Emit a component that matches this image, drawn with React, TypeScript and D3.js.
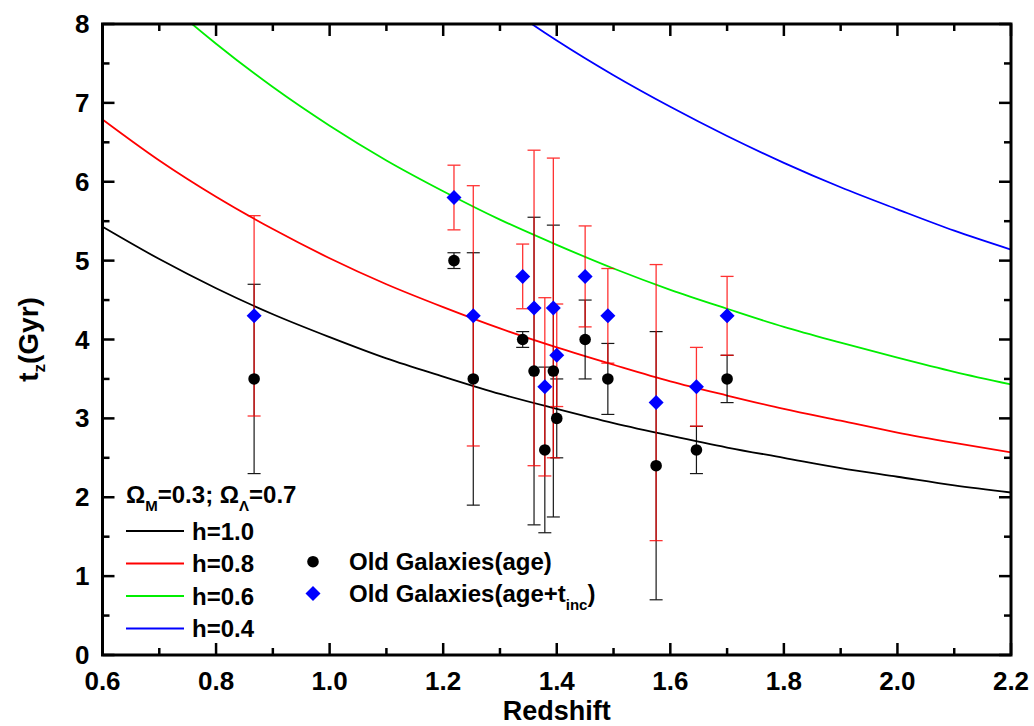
import React from "react";
import * as d3 from "d3";

// ---- data ----
const redshift = [0.867, 1.219, 1.253, 1.34, 1.36, 1.379, 1.394, 1.4, 1.45, 1.49, 1.575, 1.646, 1.7];
const age = [3.5, 5.0, 3.5, 4.0, 3.6, 2.6, 3.6, 3.0, 4.0, 3.5, 2.4, 2.6, 3.5];
const ageErr = [1.2, 0.1, 1.6, 0.1, 1.95, 1.05, 1.85, 0.5, 0.5, 0.45, 1.7, 0.3, 0.3];
const ageInc = [4.3, 5.8, 4.3, 4.8, 4.4, 3.4, 4.4, 3.8, 4.8, 4.3, 3.2, 3.4, 4.3];
const ageIncErr = [1.27, 0.41, 1.65, 0.41, 2.0, 1.13, 1.9, 0.65, 0.64, 0.6, 1.75, 0.5, 0.5];

const curveZ = [0.6, 0.7, 0.8, 0.9, 1.0, 1.1, 1.2, 1.3, 1.4, 1.5, 1.6, 1.7, 1.8, 1.9, 2.0, 2.1, 2.2];
const curveH10 = [5.43, 5.02, 4.65, 4.32, 4.03, 3.76, 3.53, 3.31, 3.12, 2.94, 2.78, 2.63, 2.5, 2.37, 2.26, 2.15, 2.06];
const curveH08 = [6.79, 6.27, 5.81, 5.4, 5.03, 4.7, 4.41, 4.14, 3.9, 3.68, 3.47, 3.29, 3.12, 2.97, 2.82, 2.69, 2.57];
const curveH06 = [9.05, 8.36, 7.75, 7.2, 6.71, 6.27, 5.88, 5.52, 5.2, 4.9, 4.63, 4.39, 4.16, 3.96, 3.77, 3.59, 3.43];
const curveH04 = [13.58, 12.54, 11.62, 10.8, 10.07, 9.41, 8.81, 8.28, 7.79, 7.35, 6.95, 6.58, 6.24, 5.93, 5.65, 5.38, 5.14];

const curveLabels = ["h=1.0", "h=0.8", "h=0.6", "h=0.4"];
const curveColors = ["#000000", "#ff0000", "#00ee00", "#0000ff"];

const xTicks = [0.6, 0.8, 1.0, 1.2, 1.4, 1.6, 1.8, 2.0, 2.2];
const xTickLabels = ["0.6", "0.8", "1.0", "1.2", "1.4", "1.6", "1.8", "2.0", "2.2"];
const xMinor = [0.7, 0.9, 1.1, 1.3, 1.5, 1.7, 1.9, 2.1];
const yTicks = [0, 1, 2, 3, 4, 5, 6, 7, 8];
const yTickLabels = ["0", "1", "2", "3", "4", "5", "6", "7", "8"];
const yMinor = [0.5, 1.5, 2.5, 3.5, 4.5, 5.5, 6.5, 7.5];

const W = 1034;
const H = 726;
const M = { left: 102.5, right: 1011, top: 24, bottom: 655 };
const FONT = "'Liberation Sans', Arial, Helvetica, sans-serif";

export default function App() {
  const x = d3.scaleLinear().domain([0.6, 2.2]).range([M.left, M.right]);
  const y = d3.scaleLinear().domain([0, 8]).range([M.bottom, M.top]);

  const curves = [curveH10, curveH08, curveH06, curveH04];
  const line = d3
    .line<number>()
    .x((_, i) => x(curveZ[i]))
    .y((d) => y(d))
    .curve(d3.curveMonotoneX);

  const cap = 6.5;
  const majLen = 12;
  const minLen = 7;

  return (
    <svg width={W} height={H} style={{ position: "absolute", left: 0, top: 0, background: "#fff" }}>
      <defs>
        <clipPath id="plotclip">
          <rect x={M.left} y={M.top} width={M.right - M.left} height={M.bottom - M.top} />
        </clipPath>
      </defs>
      <rect x={0} y={0} width={W} height={H} fill="#fff" />

      {/* model curves */}
      <g clipPath="url(#plotclip)">
        {curves.map((c, k) => (
          <path key={k} d={line(c) || ""} fill="none" stroke={curveColors[k]} strokeWidth={1.8} />
        ))}
      </g>

      {/* black error bars */}
      <g stroke="#000" strokeWidth={1.2} opacity={0.9}>
        {redshift.map((z, i) => {
          const cx = x(z);
          const lo = y(age[i] - ageErr[i]);
          const hi = y(age[i] + ageErr[i]);
          return (
            <g key={i}>
              <line x1={cx} x2={cx} y1={lo} y2={hi} />
              <line x1={cx - cap} x2={cx + cap} y1={lo} y2={lo} />
              <line x1={cx - cap} x2={cx + cap} y1={hi} y2={hi} />
            </g>
          );
        })}
      </g>

      {/* red error bars */}
      <g stroke="#ff0000" strokeWidth={1.3} opacity={0.8}>
        {redshift.map((z, i) => {
          const cx = x(z);
          const lo = y(ageInc[i] - ageIncErr[i]);
          const hi = y(ageInc[i] + ageIncErr[i]);
          return (
            <g key={i}>
              <line x1={cx} x2={cx} y1={lo} y2={hi} />
              <line x1={cx - cap} x2={cx + cap} y1={lo} y2={lo} />
              <line x1={cx - cap} x2={cx + cap} y1={hi} y2={hi} />
            </g>
          );
        })}
      </g>

      {/* black circles */}
      {redshift.map((z, i) => (
        <circle key={i} cx={x(z)} cy={y(age[i])} r={5.8} fill="#000" />
      ))}

      {/* blue diamonds */}
      {redshift.map((z, i) => {
        const cx = x(z);
        const cy = y(ageInc[i]);
        const s = 7.5;
        return (
          <path key={i} d={`M${cx},${cy - s}L${cx + s},${cy}L${cx},${cy + s}L${cx - s},${cy}Z`} fill="#0000ff" />
        );
      })}

      {/* frame */}
      <rect x={M.left} y={M.top} width={M.right - M.left} height={M.bottom - M.top} fill="none" stroke="#000" strokeWidth={3} />

      {/* ticks */}
      <g stroke="#000" strokeWidth={2.5}>
        {xTicks.map((t) => (
          <g key={"xt" + t}>
            <line x1={x(t)} x2={x(t)} y1={M.bottom} y2={M.bottom - majLen} />
            <line x1={x(t)} x2={x(t)} y1={M.top} y2={M.top + majLen} />
          </g>
        ))}
        {xMinor.map((t) => (
          <g key={"xm" + t}>
            <line x1={x(t)} x2={x(t)} y1={M.bottom} y2={M.bottom - minLen} />
            <line x1={x(t)} x2={x(t)} y1={M.top} y2={M.top + minLen} />
          </g>
        ))}
        {yTicks.map((t) => (
          <g key={"yt" + t}>
            <line x1={M.left} x2={M.left + majLen} y1={y(t)} y2={y(t)} />
            <line x1={M.right} x2={M.right - majLen} y1={y(t)} y2={y(t)} />
          </g>
        ))}
        {yMinor.map((t) => (
          <g key={"ym" + t}>
            <line x1={M.left} x2={M.left + minLen} y1={y(t)} y2={y(t)} />
            <line x1={M.right} x2={M.right - minLen} y1={y(t)} y2={y(t)} />
          </g>
        ))}
      </g>

      {/* tick labels */}
      <g fontFamily={FONT} fontWeight="bold" fill="#000">
        {xTicks.map((t, i) => (
          <text key={"xl" + t} x={x(t)} y={M.bottom + 35} fontSize={26} textAnchor="middle">
            {xTickLabels[i]}
          </text>
        ))}
        {yTicks.map((t, i) => (
          <text key={"yl" + t} x={M.left - 13} y={y(t) + 9} fontSize={26} textAnchor="end">
            {yTickLabels[i]}
          </text>
        ))}
        <text x={(M.left + M.right) / 2} y={719.5} fontSize={27} textAnchor="middle">
          Redshift
        </text>
        <text
          transform={`translate(38, ${(M.top + M.bottom) / 2}) rotate(-90)`}
          fontSize={28}
          textAnchor="middle"
        >
          t
          <tspan fontSize={17} dy={7}>z</tspan>
          <tspan dy={-7}>(Gyr)</tspan>
        </text>
      </g>

      {/* legend */}
      <g fontFamily={FONT} fontWeight="bold" fill="#000" fontSize={24}>
        <text x={126} y={503}>
          Ω<tspan fontSize={15} dy={8}>M</tspan>
          <tspan dy={-8}>=0.3; Ω</tspan>
          <tspan fontSize={15} dy={8}>Λ</tspan>
          <tspan dy={-8}>=0.7</tspan>
        </text>
        {curveLabels.map((lab, k) => {
          const ly = 531 + k * 32.5;
          return (
            <g key={lab}>
              <line x1={126} x2={184} y1={ly} y2={ly} stroke={curveColors[k]} strokeWidth={1.8} />
              <text x={192} y={ly + 8.5}>{lab}</text>
            </g>
          );
        })}
        <circle cx={313} cy={561.7} r={5.8} fill="#000" />
        <text x={349} y={570}>Old Galaxies(age)</text>
        <path d={`M313,${593.5 - 7.5}L${320.5},593.5L313,${593.5 + 7.5}L${305.5},593.5Z`} fill="#0000ff" />
        <text x={349} y={601.5}>
          Old Galaxies(age+t<tspan fontSize={15} dy={8}>inc</tspan>
          <tspan dy={-8}>)</tspan>
        </text>
      </g>
    </svg>
  );
}
